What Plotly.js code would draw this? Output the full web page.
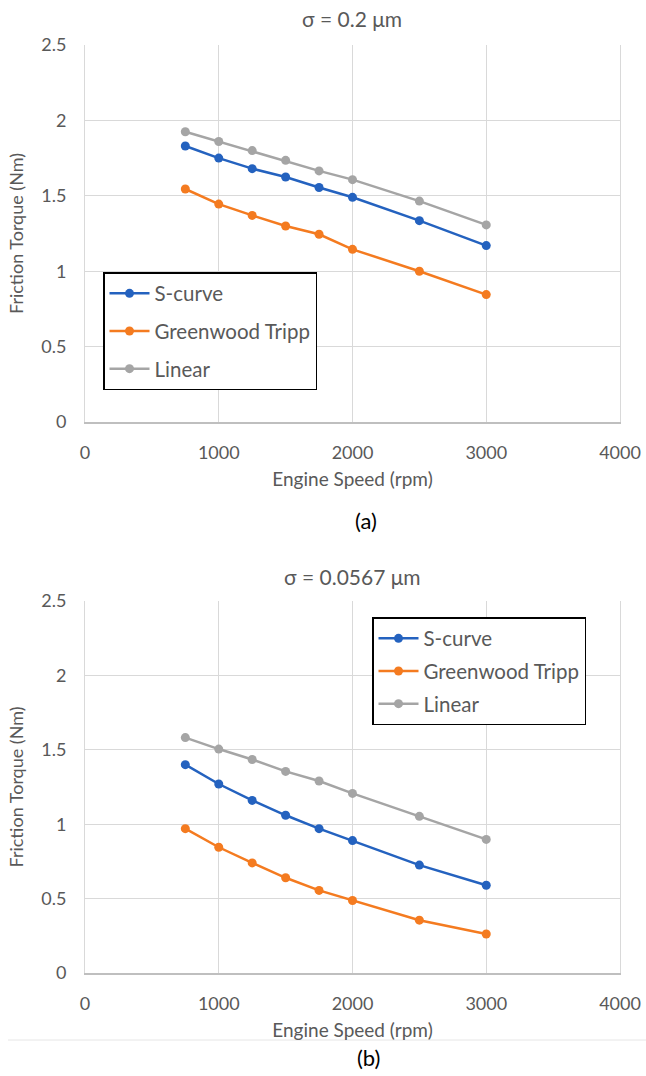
<!DOCTYPE html>
<html>
<head>
<meta charset="utf-8">
<script src="https://cdn.plot.ly/plotly-3.0.1.min.js"></script>
<style>html,body{margin:0;padding:0;background:#fff;}#chart{width:646px;height:1076px;}</style>
</head>
<body>
<div id="chart"></div>
<script>
// Data
const speed = [750, 1000, 1250, 1500, 1750, 2000, 2500, 3000];
// (a) sigma = 0.2 um
const sCurveA = [1.83, 1.75, 1.68, 1.625, 1.555, 1.49, 1.335, 1.17];
const greenwoodA = [1.545, 1.445, 1.37, 1.30, 1.245, 1.145, 1.00, 0.845];
const linearA = [1.925, 1.86, 1.80, 1.735, 1.665, 1.607, 1.465, 1.307];
// (b) sigma = 0.0567 um
const sCurveB = [1.40, 1.27, 1.16, 1.06, 0.97, 0.89, 0.725, 0.59];
const greenwoodB = [0.97, 0.845, 0.74, 0.64, 0.555, 0.487, 0.355, 0.262];
const linearB = [1.582, 1.505, 1.435, 1.355, 1.29, 1.207, 1.053, 0.898];
const seriesNames = ['S-curve', 'Greenwood Tripp', 'Linear'];
const colors = ['#2462BF', '#F47B20', '#A5A5A5'];
const titles = ['σ = 0.2 μm', 'σ = 0.0567 μm'];
const xTitle = 'Engine Speed (rpm)';
const yTitle = 'Friction Torque (Nm)';

const font = 'Lato, "Open Sans", sans-serif';
const textGray = '#595959';

function mk(y, i, xa, ya, leg) {
  return {
    x: speed, y: y, type: 'scatter', mode: 'lines+markers',
    name: seriesNames[i], xaxis: xa, yaxis: ya, legend: leg,
    legendgroup: leg + i,
    line: {color: colors[i], width: 2.5},
    marker: {color: colors[i], size: 9}
  };
}
const data = [
  mk(sCurveA, 0, 'x', 'y', 'legend'),
  mk(greenwoodA, 1, 'x', 'y', 'legend'),
  mk(linearA, 2, 'x', 'y', 'legend'),
  mk(sCurveB, 0, 'x2', 'y2', 'legend2'),
  mk(greenwoodB, 1, 'x2', 'y2', 'legend2'),
  mk(linearB, 2, 'x2', 'y2', 'legend2')
];

const W = 646, H = 1076;
const xDom = [85 / W, 620 / W];
const yDomA = [1 - 422 / H, 1 - 45 / H];
const yDomB = [1 - 973 / H, 1 - 601 / H];

function xaxis(anchor) {
  return {
    domain: xDom, anchor: anchor, range: [0, 4000], dtick: 1000, tick0: 0,
    showgrid: true, gridcolor: '#D9D9D9', gridwidth: 1,
    showline: true, linecolor: '#BFBFBF', linewidth: 1.5, zeroline: false,
    ticks: '', ticklabelstandoff: 14,
    tickfont: {family: font, size: 18, color: textGray},
    title: {text: xTitle, font: {family: font, size: 19, color: textGray}, standoff: 10},
    fixedrange: true
  };
}
function yaxis(anchor, dom) {
  return {
    domain: dom, anchor: anchor, range: [0, 2.5], dtick: 0.5, tick0: 0,
    showgrid: true, gridcolor: '#D9D9D9', gridwidth: 1,
    showline: true, mirror: true, linecolor: '#D9D9D9', linewidth: 1, zeroline: false,
    ticks: '', ticklabelstandoff: 14,
    tickfont: {family: font, size: 18, color: textGray},
    title: {text: yTitle, font: {family: font, size: 18, color: textGray}, standoff: 12},
    fixedrange: true
  };
}

const layout = {
  width: W, height: H,
  margin: {l: 0, r: 0, t: 0, b: 0},
  paper_bgcolor: '#fff', plot_bgcolor: '#fff',
  showlegend: true,
  xaxis: xaxis('y'), yaxis: yaxis('x', yDomA),
  xaxis2: xaxis('y2'), yaxis2: yaxis('x2', yDomB),
  legend: {
    x: 103 / W, y: 1 - 272 / H, xanchor: 'left', yanchor: 'top',
    bgcolor: '#fff', bordercolor: '#000', borderwidth: 1.5,
    font: {family: font, size: 20.5, color: textGray},
    tracegroupgap: 8, itemwidth: 40
  },
  legend2: {
    x: 372 / W, y: 1 - 617 / H, xanchor: 'left', yanchor: 'top',
    bgcolor: '#fff', bordercolor: '#000', borderwidth: 1.5,
    font: {family: font, size: 20.5, color: textGray},
    tracegroupgap: 3, itemwidth: 40
  },
  annotations: [
    {text: titles[0], xref: 'paper', yref: 'paper', x: 352 / W, y: 1 - 18 / H,
     showarrow: false, xanchor: 'center', yanchor: 'middle',
     font: {family: font, size: 21, color: textGray}},
    {text: titles[1], xref: 'paper', yref: 'paper', x: 352 / W, y: 1 - 576 / H,
     showarrow: false, xanchor: 'center', yanchor: 'middle',
     font: {family: font, size: 21, color: textGray}},
    {text: '(a)', xref: 'paper', yref: 'paper', x: 366 / W, y: 1 - 520 / H,
     showarrow: false, xanchor: 'center', yanchor: 'middle',
     font: {family: font, size: 22, color: '#000'}},
    {text: '(b)', xref: 'paper', yref: 'paper', x: 368 / W, y: 1 - 1057 / H,
     showarrow: false, xanchor: 'center', yanchor: 'middle',
     font: {family: font, size: 22, color: '#000'}}
  ],
  shapes: [
    {type: 'line', xref: 'paper', yref: 'paper', x0: 8 / W, x1: 1, y0: 1 - 1040 / H, y1: 1 - 1040 / H,
     line: {color: '#E6E6E6', width: 1}}
  ]
};

Plotly.newPlot('chart', data, layout, {displayModeBar: false, staticPlot: true});
</script>
</body>
</html>
